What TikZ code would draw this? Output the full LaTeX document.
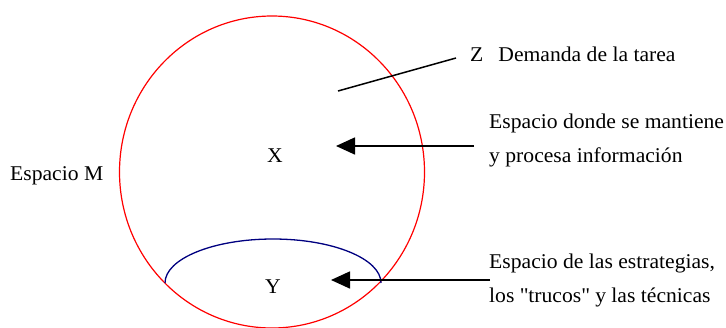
\documentclass[tikz,border=0pt]{standalone}
\usepackage{fontspec}
\setmainfont{Liberation Serif}[FakeStretch=1.03]
\usepackage{xcolor}
\usetikzlibrary{arrows.meta}
\definecolor{azul}{RGB}{0,0,128}

\begin{document}
\begin{tikzpicture}[
            x=1pt, y=-1pt,                     % unidades en pixeles, eje y hacia abajo
            every node/.style={font=\fontsize{21}{34.5}\selectfont, inner sep=0pt},
            texto/.style={
                anchor=base west,
                align=left
            },
            linea/.style={
                draw,
                line width=1.5pt
            },
            flecha/.style={
                draw,
                -{Triangle[length=19pt, width=17pt]},
                line width=1.6pt
            }
        ]
            \useasboundingbox (0,0) rectangle (726,327);

            % --- ESPACIOS ---
            \draw [red, line width=1.2pt] (272,172) ellipse [x radius=152.5, y radius=156];
            \draw [azul, line width=1.3pt] (165,283) arc [start angle=180, end angle=360, x radius=108, y radius=44];

            % --- NODOS ---
            \node [texto] (m) at (10,180) {Espacio M};
            \node (x) at (275,156) {X};
            \node (y) at (273,287) {Y};
            \node [texto] (z) at (470,61) {Z\hspace{15pt}Demanda de la tarea};
            % (base = linea de base de la ultima fila)
            \node [texto] (mantiene) at (489,162.7) {Espacio donde se mantiene\\y procesa información};
            \node [texto] (estrategias) at (489,302.7) {Espacio de las estrategias,\\los \textquotedbl trucos\textquotedbl{} y las técnicas};

            \coordinate (z_in) at (338,91);
            \coordinate (z_out) at (456,58);
            \coordinate (x_tip) at (336,146);
            \coordinate (x_tail) at (474,146);
            \coordinate (y_tip) at (331,280);
            \coordinate (y_tail) at (490,280);

            % --- ENLACES ---
            \path [linea] (z_in) -- (z_out);
            \path [flecha] (x_tail) -- (x_tip);
            \path [flecha] (y_tail) -- (y_tip);
        \end{tikzpicture}
\end{document}
